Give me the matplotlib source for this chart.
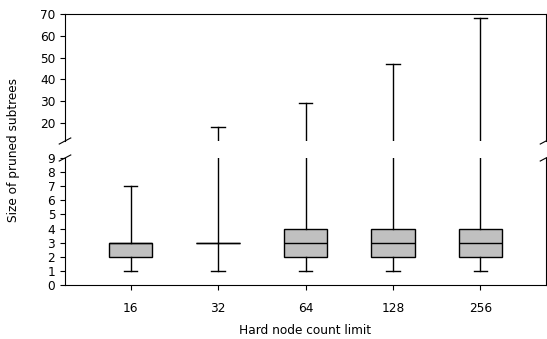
import numpy as np
import matplotlib.pyplot as plt

labels = ['16', '32', '64', '128', '256']
whis_lo = [1, 1, 1, 1, 1]
q1 = [2, 3, 2, 2, 2]
med = [3, 3, 3, 3, 3]
q3 = [3, 3, 4, 4, 4]
whis_hi = [7, 18, 29, 47, 68]

stats = []
for i in range(len(labels)):
    stats.append({'whislo': whis_lo[i], 'q1': q1[i], 'med': med[i],
                  'q3': q3[i], 'whishi': whis_hi[i], 'label': labels[i]})

fs = 8.7
fig = plt.figure(figsize=(5.47, 3.39), dpi=100)
ax1 = fig.add_axes([65/547, 1 - 141/339, 481/547, 127/339])
ax2 = fig.add_axes([65/547, 1 - 285/339, 481/547, 127/339])

props = dict(boxprops=dict(color='black', linewidth=1),
             medianprops=dict(color='black', linewidth=1),
             whiskerprops=dict(color='black', linewidth=1),
             capprops=dict(color='black', linewidth=1))

for ax in (ax1, ax2):
    ax.bxp(stats, widths=0.5, capwidths=0.15, patch_artist=True,
           showfliers=False, **props)
    for p in ax.patches:
        p.set_facecolor('#c0c0c0')
    ax.set_xlim(0.25, 5.75)
    ax.tick_params(labelsize=fs)

ax1.set_ylim(11.8, 70)
ax1.set_yticks([20, 30, 40, 50, 60, 70])
ax2.set_ylim(0, 9)
ax2.set_yticks(range(10))

ax1.spines['bottom'].set_visible(False)
ax2.spines['top'].set_visible(False)
ax1.tick_params(bottom=False, labelbottom=False)
ax2.set_xticklabels(labels)
ax2.tick_params(axis='x', pad=9)

# break marks
d = 0.012
kw = dict(transform=ax1.transAxes, color='k', clip_on=False, linewidth=0.8)
ax1.plot((-d, +d), (-d * 2, +d * 2), **kw)
ax1.plot((1 - d, 1 + d), (-d * 2, +d * 2), **kw)
kw.update(transform=ax2.transAxes)
ax2.plot((-d, +d), (1 - d * 2, 1 + d * 2), **kw)
ax2.plot((1 - d, 1 + d), (1 - d * 2, 1 + d * 2), **kw)

fig.text(14/547, 1 - 150/339, 'Size of pruned subtrees', rotation=90,
         ha='center', va='center', fontsize=fs)
fig.text(305/547, 1 - 331/339, 'Hard node count limit',
         ha='center', va='center', fontsize=fs)

fig.savefig('out.png', dpi=100)
